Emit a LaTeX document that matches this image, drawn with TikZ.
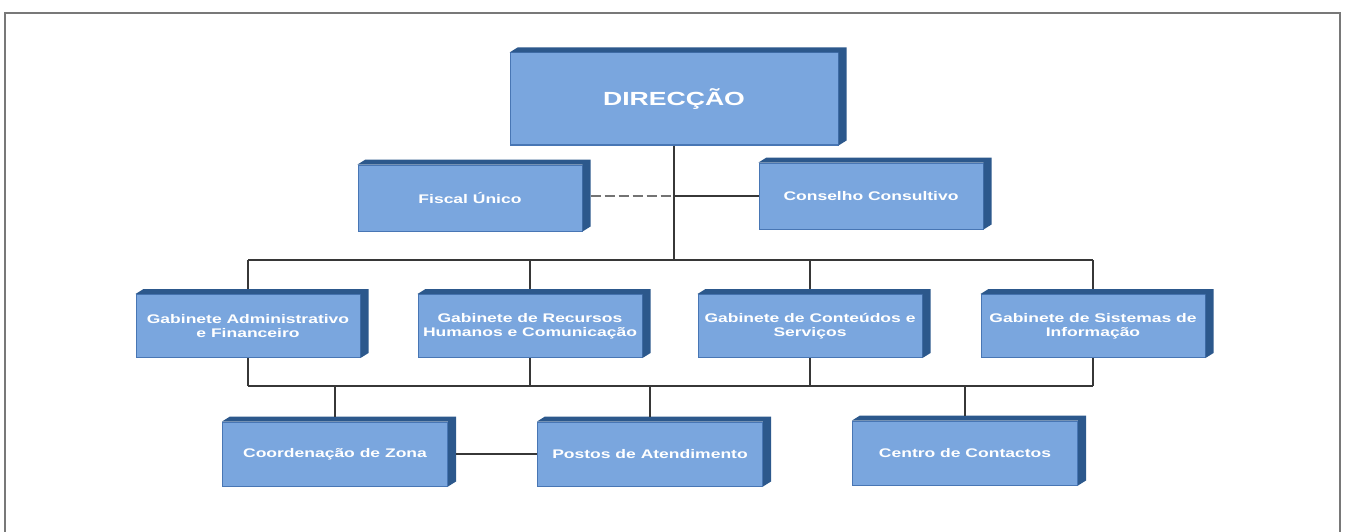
\documentclass[tikz,border=0pt]{standalone}
\usepackage{fontspec}
\newfontfamily\bxfont[FakeStretch=1.4]{Liberation Sans}
\usetikzlibrary{calc}
\definecolor{facec}{RGB}{122,166,222}
\definecolor{edgec}{RGB}{72,118,180}
\definecolor{deepc}{RGB}{44,88,140}
\definecolor{linec}{RGB}{55,55,55}
\definecolor{framec}{RGB}{120,120,120}
\tikzset{
  box/.style={draw=edgec, line width=1pt, fill=facec, text=white, align=center,
    inner sep=2pt, font={\bxfont\bfseries\fontsize{12.5}{14}\selectfont}},
  wide/.style={box, minimum width=224pt, minimum height=63pt},
  low/.style={box, minimum width=225pt, minimum height=64pt},
  conn/.style={draw=linec, line width=1.4pt},
}
\newcommand{\extr}[1]{%
  \fill[deepc] (#1.north west) -- ++(8,-5) -- ($(#1.north east)+(8,-5)$)
    -- ($(#1.south east)+(8,-5)$) -- (#1.south east) -- (#1.north east) -- cycle;}
\begin{document}
\begin{tikzpicture}[x=1pt,y=-1pt]
\useasboundingbox (0,0) rectangle (1346,532);
\fill[white] (0,0) rectangle (1346,532);
\draw[framec, line width=1.2pt] (5,532) -- (5,13) -- (1340,13) -- (1340,532);

% nodes
\node[box, minimum width=328pt, minimum height=92pt,
  font={\bxfont\bfseries\fontsize{19}{22}\selectfont}] (dir) at (674,99) {DIRECÇÃO};
\node[box, minimum width=224pt, minimum height=66pt] (fis) at (470,198) {Fiscal Único};
\node[box, minimum width=224pt, minimum height=66pt] (con) at (871,196) {Conselho Consultivo};

\node[wide] (g1) at (248,326) {Gabinete Administrativo\\e Financeiro};
\node[wide] (g2) at (530,326) {Gabinete de Recursos\\Humanos e Comunicação};
\node[wide] (g3) at (810,326) {Gabinete de Conteúdos e\\Serviços};
\node[wide] (g4) at (1093,326) {Gabinete de Sistemas de\\Informação};

\node[low] (b1) at (335,454) {Coordenação de Zona};
\node[low] (b2) at (650,454) {Postos de Atendimento};
\node[low] (b3) at (965,453) {Centro de Contactos};

\foreach \n in {dir,fis,con,g1,g2,g3,g4,b1,b2,b3} {\extr{\n}}

% bus coordinates
\coordinate (busA) at (674,260);
\coordinate (busB) at (674,386);

% connectors
\draw[conn] (dir.south) -- (busA);
\draw[conn] (g1.north |- busA) -- (g4.north |- busA);
\foreach \g in {g1,g2,g3,g4} {
  \draw[conn] (\g.north |- busA) -- ([yshift=5pt]\g.north);
  \draw[conn] (\g.south) -- (\g.south |- busB);
}
\draw[conn] (g1.south |- busB) -- (g4.south |- busB);
\foreach \b in {b1,b2,b3} {
  \draw[conn] (\b.north |- busB) -- ([yshift=5pt]\b.north);
}
\coordinate (mid) at (dir.south |- con.west);
\draw[draw=linec!70, line width=1.2pt, dash pattern=on 10pt off 4pt] ([xshift=8pt]fis.east |- mid) -- (mid);
\draw[conn, line width=1.2pt] (mid) -- (con.west |- mid);
\draw[conn, line width=1.2pt] ([xshift=8pt]b1.east) -- (b2.west);
\end{tikzpicture}
\end{document}
